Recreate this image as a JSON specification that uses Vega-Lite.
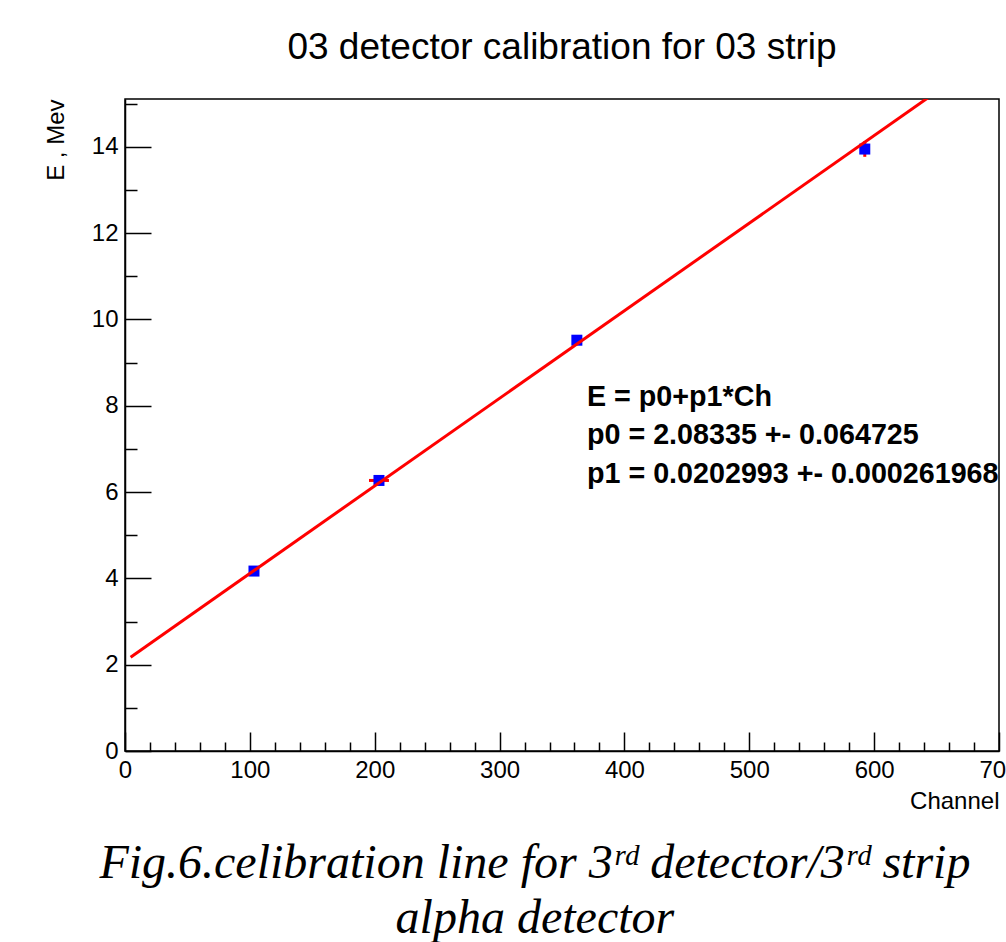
{
  "$schema": "https://vega.github.io/schema/vega-lite/v6.json",
  "description": "Calibration line for 3rd detector / 3rd strip, alpha detector",
  "width": 874,
  "height": 652,
  "autosize": {"type": "none"},
  "padding": {"left": 125, "top": 99, "right": 7, "bottom": 191},
  "background": "white",
  "title": {
    "text": "03 detector calibration for 03 strip",
    "font": "Liberation Sans",
    "fontSize": 37,
    "fontWeight": "normal",
    "color": "black",
    "anchor": "middle",
    "frame": "group",
    "baseline": "alphabetic",
    "offset": -4
  },
  "config": {
    "view": {"stroke": "black", "strokeWidth": 1.5}
  },
  "datasets": {
    "points": [
      {"ch": 103.3, "e": 4.17, "ch_lo": 99.5, "ch_hi": 107.1, "e_lo": 4.12, "e_hi": 4.22},
      {"ch": 203.4, "e": 6.27, "ch_lo": 195.4, "ch_hi": 211.4, "e_lo": 6.22, "e_hi": 6.32},
      {"ch": 361.9, "e": 9.52, "ch_lo": 358.9, "ch_hi": 364.9, "e_lo": 9.45, "e_hi": 9.59},
      {"ch": 592.5, "e": 13.95, "ch_lo": 589.5, "ch_hi": 595.5, "e_lo": 13.77, "e_hi": 14.13}
    ],
    "fit": [
      {"ch": 4.5, "e": 2.175},
      {"ch": 700, "e": 16.293}
    ],
    "fitText": [
      {"label": ["E = p0+p1*Ch", "p0 = 2.08335 +- 0.064725", "p1 = 0.0202993 +- 0.000261968"]}
    ],
    "caption": [
      {"label": ["Fig.6.celibration line for 3ʳᵈ detector/3ʳᵈ strip", "alpha detector"]}
    ]
  },
  "layer": [
    {
      "data": {"name": "points"},
      "mark": {"type": "rule", "color": "#ff0000", "strokeWidth": 3},
      "encoding": {
        "x": {
          "field": "ch_lo",
          "type": "quantitative",
          "scale": {"domain": [0, 700], "nice": false, "zero": false},
          "axis": {
            "values": [0, 20, 40, 60, 80, 100, 120, 140, 160, 180, 200, 220, 240, 260, 280, 300, 320, 340, 360, 380, 400, 420, 440, 460, 480, 500, 520, 540, 560, 580, 600, 620, 640, 660, 680, 700],
            "tickCount": 100,
            "format": "d",
            "labelExpr": "datum.value % 100 === 0 ? datum.label : ''",
            "tickSize": {"condition": {"test": "datum.value % 100 === 0", "value": -19}, "value": -9},
            "tickColor": "black",
            "tickWidth": 1.5,
            "domainColor": "black",
            "domainWidth": 1.5,
            "grid": false,
            "labelFont": "Liberation Sans",
            "labelFontSize": 24,
            "labelColor": "black",
            "labelPadding": 26,
            "labelOverlap": false,
            "labelBound": false,
            "labelFlush": false,
            "title": "Channel",
            "titleFont": "Liberation Sans",
            "titleFontSize": 24,
            "titleFontWeight": "normal",
            "titleColor": "black",
            "titleAlign": "right",
            "titleBaseline": "alphabetic",
            "titleX": 874,
            "titleY": 57
          }
        },
        "x2": {"field": "ch_hi"},
        "y": {
          "field": "e",
          "type": "quantitative",
          "scale": {"domain": [0, 15.11], "nice": false, "zero": false},
          "axis": {
            "values": [0, 0.5, 1, 1.5, 2, 2.5, 3, 3.5, 4, 4.5, 5, 5.5, 6, 6.5, 7, 7.5, 8, 8.5, 9, 9.5, 10, 10.5, 11, 11.5, 12, 12.5, 13, 13.5, 14, 14.5, 15],
            "tickCount": 100,
            "format": "d",
            "labelExpr": "datum.value % 2 === 0 ? datum.label : ''",
            "tickSize": {"condition": {"test": "datum.value % 2 === 0", "value": -26}, "value": -12},
            "tickColor": "black",
            "tickWidth": 1.5,
            "domainColor": "black",
            "domainWidth": 1.5,
            "grid": false,
            "labelFont": "Liberation Sans",
            "labelFontSize": 24,
            "labelColor": "black",
            "labelPadding": 33,
            "labelOverlap": false,
            "labelBound": false,
            "labelFlush": false,
            "title": "E , Mev",
            "titleFont": "Liberation Sans",
            "titleFontSize": 24,
            "titleFontWeight": "normal",
            "titleColor": "black",
            "titleAngle": 270,
            "titleAlign": "right",
            "titleBaseline": "alphabetic",
            "titleX": -62,
            "titleY": 0
          }
        }
      }
    },
    {
      "data": {"name": "points"},
      "mark": {"type": "rule", "color": "#ff0000", "strokeWidth": 3},
      "encoding": {
        "x": {"field": "ch", "type": "quantitative"},
        "y": {"field": "e_lo", "type": "quantitative"},
        "y2": {"field": "e_hi"}
      }
    },
    {
      "data": {"name": "points"},
      "mark": {"type": "square", "color": "#0000ff", "filled": true, "opacity": 1, "size": 121},
      "encoding": {
        "x": {"field": "ch", "type": "quantitative"},
        "y": {"field": "e", "type": "quantitative"}
      }
    },
    {
      "data": {"name": "fit"},
      "mark": {"type": "line", "color": "#ff0000", "strokeWidth": 3, "clip": true},
      "encoding": {
        "x": {"field": "ch", "type": "quantitative"},
        "y": {"field": "e", "type": "quantitative"}
      }
    },
    {
      "data": {"name": "fitText"},
      "mark": {
        "type": "text",
        "align": "left",
        "baseline": "alphabetic",
        "font": "Liberation Sans",
        "fontSize": 28.7,
        "fontWeight": "bold",
        "color": "black",
        "lineHeight": 38.5
      },
      "encoding": {
        "x": {"datum": 370},
        "y": {"datum": 8.0},
        "text": {"field": "label"}
      }
    },
    {
      "data": {"name": "caption"},
      "mark": {
        "type": "text",
        "align": "center",
        "baseline": "alphabetic",
        "font": "Liberation Serif",
        "fontSize": 48,
        "fontStyle": "italic",
        "color": "black",
        "lineHeight": 55
      },
      "encoding": {
        "x": {"datum": 328.3},
        "y": {"datum": -2.944},
        "text": {"field": "label"}
      }
    }
  ]
}
